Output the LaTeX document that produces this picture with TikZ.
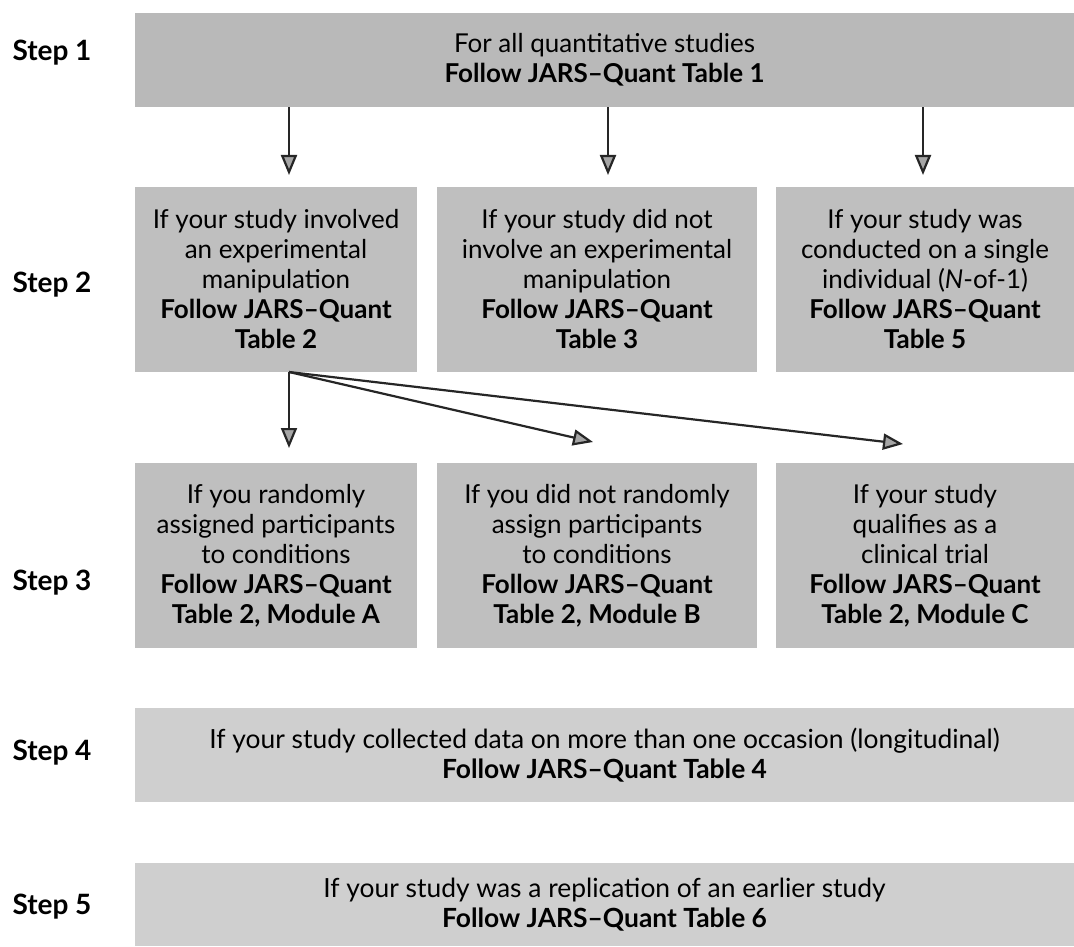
\documentclass[tikz,border=0pt]{standalone}
\usepackage{fontspec}
\setmainfont{Lato}
\usepackage{tikz}
\usetikzlibrary{arrows.meta,positioning,calc}

\tikzset{
  box/.style={fill=gray!50, draw=none, align=center, font=\fontsize{13}{15}\selectfont, inner sep=0pt},
  widebox/.style={fill=gray!38, draw=none, align=center, font=\fontsize{13.2}{15}\selectfont, inner sep=0pt},
  steplabel/.style={font=\fontsize{14}{16}\selectfont\bfseries, anchor=center},
  arr/.style={draw=black!85, line width=1.1pt, -{Triangle[length=10pt,width=8pt,fill=gray!70]}}
}

\begin{document}
\begin{tikzpicture}[x=0.5pt,y=-0.5pt]
\useasboundingbox (0,0) rectangle (1074,946);
%Schrittbezeichnungen links
\node[steplabel] (st1) at (52,53)  {Step 1};
\node[steplabel] (st2) at (52,285) {Step 2};
\node[steplabel] (st3) at (52,583) {Step 3};
\node[steplabel] (st4) at (52,753) {Step 4};
\node[steplabel] (st5) at (52,907) {Step 5};
%Stufe 1
\node[box, fill=gray!55, minimum width=469.5pt, minimum height=47pt] (s1) at (604.5,60)
  {For all quantitative studies\\ \textbf{Follow JARS--Quant Table 1}};
%Stufe 2
\node[box, minimum width=141pt, minimum height=92.5pt] (b21) at (276,279.5)
  {If your study involved\\ an experimental\\ manipulation\\ \textbf{Follow JARS--Quant}\\ \textbf{Table 2}};
\node[box, minimum width=160pt, minimum height=92.5pt] (b22) at (597,279.5)
  {If your study did not\\ involve an experimental\\ manipulation\\ \textbf{Follow JARS--Quant}\\ \textbf{Table 3}};
\node[box, minimum width=149pt, minimum height=92.5pt] (b23) at (925,279.5)
  {If your study was\\ conducted on a single\\ individual (\textit{N}-of-1)\\ \textbf{Follow JARS--Quant}\\ \textbf{Table 5}};
%Stufe 3
\node[box, minimum width=141pt, minimum height=92.5pt] (b31) at (276,555.5)
  {If you randomly\\ assigned participants\\ to conditions\\ \textbf{Follow JARS--Quant}\\ \textbf{Table 2, Module A}};
\node[box, minimum width=160pt, minimum height=92.5pt] (b32) at (597,555.5)
  {If you did not randomly\\ assign participants\\ to conditions\\ \textbf{Follow JARS--Quant}\\ \textbf{Table 2, Module B}};
\node[box, minimum width=149pt, minimum height=92.5pt] (b33) at (925,555.5)
  {If your study\\ qualifies as a\\ clinical trial\\ \textbf{Follow JARS--Quant}\\ \textbf{Table 2, Module C}};
%Stufe 4 und 5
\node[widebox, minimum width=469.5pt, minimum height=47pt] (s4) at (604.5,755)
  {If your study collected data on more than one occasion (longitudinal)\\ \textbf{Follow JARS--Quant Table 4}};
\node[widebox, minimum width=469.5pt, minimum height=41.5pt] (s5) at (604.5,904.5)
  {If your study was a replication of an earlier study\\ \textbf{Follow JARS--Quant Table 6}};
%Pfeile
\coordinate (t1) at (289,175);
\coordinate (t2) at (608,175);
\coordinate (t3) at (923,175);
\foreach \t in {t1,t2,t3}{
\draw[arr] (s1.south -| \t) -- (\t);
}
\coordinate (split) at (289,372);
\coordinate (u1) at (289,448);
\coordinate (u2) at (593,442);
\coordinate (u3) at (903,444);
\foreach \u in {u1,u2,u3}{
\draw[arr] (split) -- (\u);
}
\end{tikzpicture}
\end{document}
